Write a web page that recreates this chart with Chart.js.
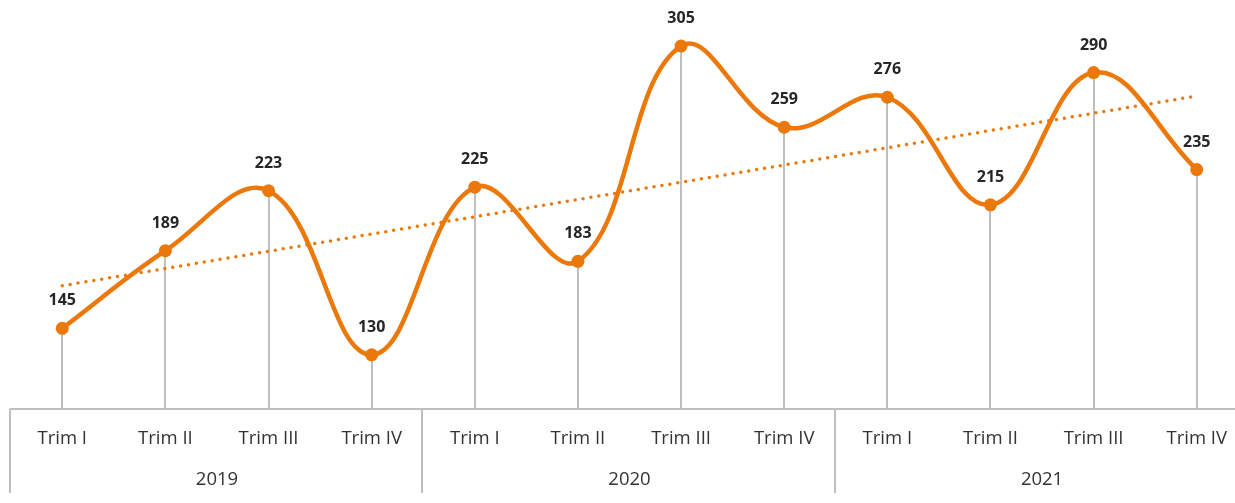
<!DOCTYPE html>
<html>
<head>
<meta charset="utf-8">
<script src="https://cdn.jsdelivr.net/npm/chart.js@4/dist/chart.umd.min.js"></script>
<style>
  html, body { margin: 0; padding: 0; background: #fff; overflow: hidden; width: 1235px; height: 503px; }
  canvas { display: block; }
</style>
</head>
<body>
<canvas id="c" width="1250" height="503"></canvas>
<script>
const years = ['2019', '2020', '2021'];
const quarters = ['Trim I', 'Trim II', 'Trim III', 'Trim IV'];
const values = [145, 189, 223, 130, 225, 183, 305, 259, 276, 215, 290, 235];

const labels = [];
years.forEach(y => quarters.forEach(q => labels.push([q, y])));

// Linear trend line (least squares) of the series, as the spreadsheet draws it
function linearTrend(v) {
  const n = v.length;
  let sx = 0, sy = 0, sxy = 0, sxx = 0;
  v.forEach((y, i) => { const x = i + 1; sx += x; sy += y; sxy += x * y; sxx += x * x; });
  const b = (n * sxy - sx * sy) / (n * sxx - sx * sx);
  const a = (sy - b * sx) / n;
  return v.map((_, i) => a + b * (i + 1));
}
const trend = linearTrend(values);

const ORANGE = '#EB780A';
const GRID = '#BFBFBF';
const TEXT = '#333333';
const LABEL = '#262626';

const decor = {
  id: 'decor',
  beforeDatasetsDraw(chart) {
    const { ctx, chartArea } = chart;
    const meta = chart.getDatasetMeta(0);
    const yAxis = Math.round(chartArea.bottom) + 1;
    ctx.save();
    ctx.strokeStyle = GRID;
    ctx.lineWidth = 2;
    meta.data.forEach(p => {
      ctx.beginPath();
      ctx.moveTo(Math.round(p.x), p.y);
      ctx.lineTo(Math.round(p.x), yAxis);
      ctx.stroke();
    });
    // axis line
    ctx.beginPath();
    ctx.moveTo(chartArea.left - 1, yAxis);
    ctx.lineTo(chartArea.right + 1, yAxis);
    ctx.stroke();
    // group separators
    const w = (chartArea.right - chartArea.left) / labels.length;
    for (let k = 0; k <= years.length; k++) {
      const x = Math.round(chartArea.left + k * quarters.length * w) - 1;
      ctx.beginPath();
      ctx.moveTo(x, yAxis);
      ctx.lineTo(x, yAxis + 84);
      ctx.stroke();
    }
    // category labels
    ctx.fillStyle = TEXT;
    ctx.font = '18.5px "Open Sans", sans-serif';
    ctx.textAlign = 'center';
    ctx.textBaseline = 'middle';
    labels.forEach((l, i) => {
      const x = chartArea.left + (i + 0.5) * w;
      ctx.fillText(l[0], x, yAxis + 29.5);
    });
    years.forEach((y, k) => {
      const x = chartArea.left + (k + 0.5) * quarters.length * w;
      ctx.fillText(y, x, yAxis + 71);
    });
    ctx.restore();
  },
  afterDatasetsDraw(chart) {
    const { ctx } = chart;
    const meta = chart.getDatasetMeta(0);
    ctx.save();
    ctx.fillStyle = LABEL;
    ctx.font = 'bold 16px "Open Sans", sans-serif';
    ctx.textAlign = 'center';
    ctx.textBaseline = 'middle';
    meta.data.forEach((p, i) => {
      ctx.fillText(String(values[i]), p.x, p.y - 27.5);
    });
    ctx.restore();
  }
};

new Chart(document.getElementById('c'), {
  type: 'line',
  data: {
    labels: labels,
    datasets: [
      {
        data: values,
        borderColor: ORANGE,
        backgroundColor: ORANGE,
        borderWidth: 4.5,
        tension: 0.4,
        pointRadius: 6.5,
        pointHoverRadius: 6.5,
        pointBackgroundColor: ORANGE,
        pointBorderWidth: 0,
        order: 1
      },
      {
        data: trend,
        borderColor: ORANGE,
        borderWidth: 3.5,
        borderDash: [0, 8],
        borderCapStyle: 'round',
        pointRadius: 0,
        tension: 0,
        fill: false,
        order: 2
      }
    ]
  },
  options: {
    responsive: false,
    animation: false,
    devicePixelRatio: 1,
    layout: { autoPadding: false, padding: { left: 10.7, right: 1.7, top: 2, bottom: 95.3 } },
    plugins: { legend: { display: false }, tooltip: { enabled: false } },
    scales: {
      x: { display: false, offset: true },
      y: { display: false, min: 100, max: 330 }
    }
  },
  plugins: [decor]
});
</script>
</body>
</html>
